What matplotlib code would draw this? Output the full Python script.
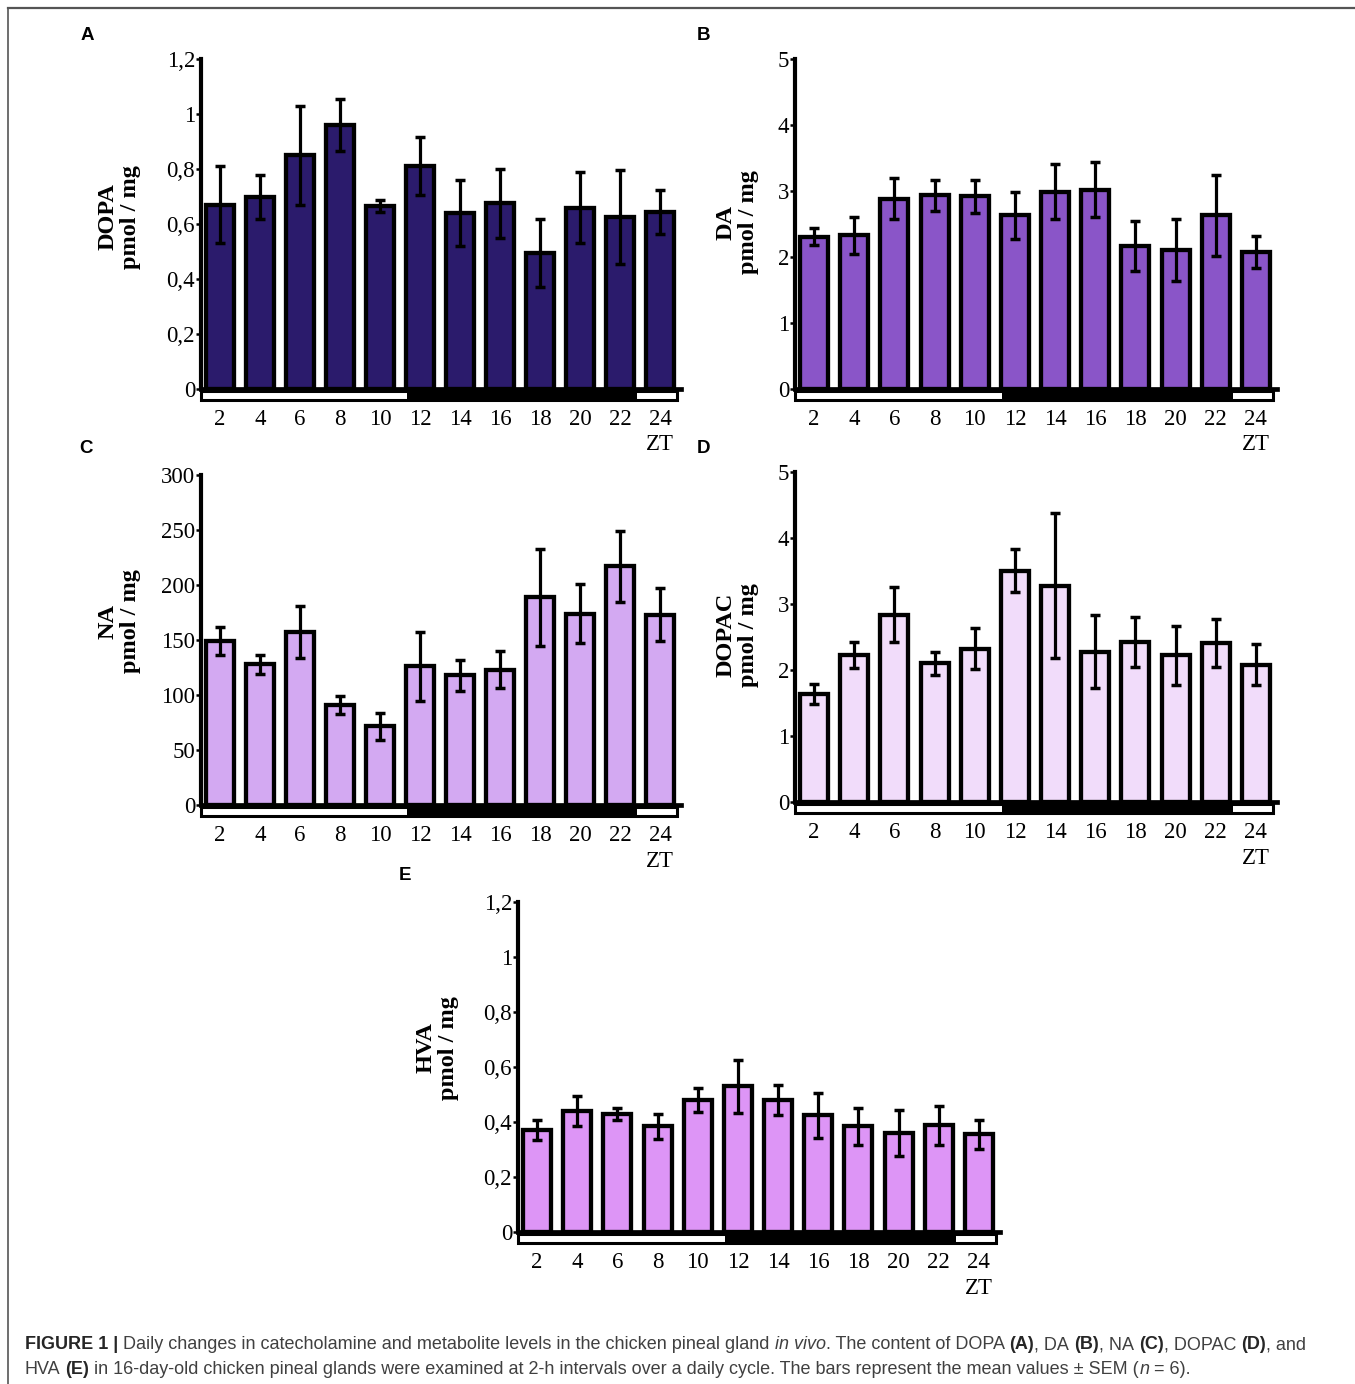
import numpy as np
import matplotlib
matplotlib.use("Agg")
import matplotlib.pyplot as plt
from matplotlib.patches import Rectangle
from matplotlib.lines import Line2D
import matplotlib.transforms as mtransforms
from matplotlib.font_manager import FontProperties

# ---------------- data ----------------
zt = [2, 4, 6, 8, 10, 12, 14, 16, 18, 20, 22, 24]

dopa_mean = [0.67, 0.70, 0.85, 0.96, 0.665, 0.81, 0.64, 0.675, 0.495, 0.66, 0.625, 0.645]
dopa_sem = [0.14, 0.08, 0.18, 0.095, 0.022, 0.105, 0.12, 0.125, 0.123, 0.13, 0.17, 0.08]

da_mean = [2.31, 2.33, 2.88, 2.935, 2.92, 2.63, 2.99, 3.02, 2.165, 2.11, 2.63, 2.08]
da_sem = [0.125, 0.28, 0.31, 0.235, 0.25, 0.355, 0.42, 0.42, 0.38, 0.47, 0.62, 0.24]

na_mean = [149, 128, 157, 91, 71.5, 126, 118, 123, 189, 174, 217, 173]
na_sem = [13, 8.5, 23.5, 8, 12.5, 31.5, 14, 17, 44, 26.5, 32, 24]

dopac_mean = [1.64, 2.23, 2.84, 2.10, 2.32, 3.505, 3.28, 2.28, 2.42, 2.22, 2.41, 2.08]
dopac_sem = [0.15, 0.20, 0.42, 0.18, 0.31, 0.33, 1.10, 0.56, 0.38, 0.45, 0.36, 0.31]

hva_mean = [0.37, 0.44, 0.43, 0.385, 0.48, 0.53, 0.48, 0.424, 0.385, 0.36, 0.388, 0.355]
hva_sem = [0.037, 0.053, 0.022, 0.045, 0.043, 0.097, 0.053, 0.083, 0.067, 0.082, 0.072, 0.054]

dopa_ticks = [0, 0.2, 0.4, 0.6, 0.8, 1.0, 1.2]
da_ticks = [0, 1, 2, 3, 4, 5]
na_ticks = [0, 50, 100, 150, 200, 250, 300]
dopac_ticks = [0, 1, 2, 3, 4, 5]
hva_ticks = [0, 0.2, 0.4, 0.6, 0.8, 1.0, 1.2]

# ---------------- figure ----------------
W, H = 1355, 1384
fig = plt.figure(figsize=(W / 100, H / 100), dpi=100)
fig.patch.set_facecolor("white")


def fx(px):
    return px / W


def fy(py):
    return 1 - py / H


SERIF = "Liberation Serif"
SANS = "Liberation Sans"
AX_H = 330.0

panels = [
    dict(letter="A", name="DOPA", mean=dopa_mean, sem=dopa_sem, ticks=dopa_ticks,
         color="#2b1b6c", left=201, zero=389, width=480, lxy=(87, 35), lab=(119, 217)),
    dict(letter="B", name="DA", mean=da_mean, sem=da_sem, ticks=da_ticks,
         color="#8a55c8", left=795, zero=389, width=482, lxy=(703, 35), lab=(737, 222)),
    dict(letter="C", name="NA", mean=na_mean, sem=na_sem, ticks=na_ticks,
         color="#d3a9f2", left=201, zero=805, width=480, lxy=(86, 449), lab=(119, 621)),
    dict(letter="D", name="DOPAC", mean=dopac_mean, sem=dopac_sem, ticks=dopac_ticks,
         color="#f1dcfa", left=795, zero=802, width=482, lxy=(703, 449), lab=(737, 635)),
    dict(letter="E", name="HVA", mean=hva_mean, sem=hva_sem, ticks=hva_ticks,
         color="#dd95f6", left=518, zero=1232, width=482, lxy=(405, 876), lab=(437, 1048)),
]


def fmt(v):
    return ("%g" % v).replace(".", ",")


for p in panels:
    ax = fig.add_axes([fx(p["left"]), 1 - p["zero"] / H, p["width"] / W, AX_H / H])
    x = np.arange(len(zt))
    ax.bar(x, p["mean"], width=0.7, color=p["color"], edgecolor="black",
           linewidth=3.1, zorder=2)
    ax.errorbar(x, p["mean"], yerr=p["sem"], fmt="none", ecolor="black",
                elinewidth=2.3, capsize=3.6, capthick=2.5, zorder=3)
    ax.set_xlim(-0.475, 11.525)
    ax.set_ylim(p["ticks"][0], p["ticks"][-1])
    for s in ("top", "right"):
        ax.spines[s].set_visible(False)
    ax.spines["left"].set_linewidth(3.0)
    ax.spines["bottom"].set_linewidth(3.4)
    ax.set_xticks(x)
    ax.set_xticklabels([str(z) for z in zt], fontfamily=SERIF, fontsize=16.5)
    ax.tick_params(axis="x", length=0, pad=14.2)
    ax.set_yticks(p["ticks"])
    ax.set_yticklabels([fmt(t) for t in p["ticks"]], fontfamily=SERIF, fontsize=16.5)
    ax.tick_params(axis="y", direction="out", length=3.5, width=1.8, pad=0.8)
    ax.set_facecolor("none")

    trans = mtransforms.blended_transform_factory(ax.transData, ax.transAxes)
    # light / dark bar
    ax.add_patch(Rectangle((-0.475, -11 / AX_H), 11.9, 9 / AX_H, fc="white", ec="black",
                           lw=2.2, transform=trans, clip_on=False, zorder=1))
    ax.add_patch(Rectangle((4.675, -13 / AX_H), 5.75, 13 / AX_H, fc="black", ec="none",
                           lw=0, transform=trans, clip_on=False, zorder=1))
    ax.text(11, -56 / AX_H, "ZT", transform=trans, ha="center", va="center",
            fontfamily=SERIF, fontsize=16.5)

    lx, ly = p["lab"]
    ax.text((lx - p["left"]) / p["width"], (p["zero"] - ly) / AX_H,
            p["name"] + "\npmol / mg", transform=ax.transAxes, rotation=90,
            ha="center", va="center", multialignment="center",
            fontfamily=SERIF, fontweight="bold", fontsize=17.5, linespacing=1.12)

    fig.text(fx(p["lxy"][0]), fy(p["lxy"][1]), p["letter"], ha="center", va="center",
             fontfamily=SANS, fontweight="bold", fontsize=13.5)

# border lines
fig.add_artist(Line2D([fx(8), fx(8)], [fy(8), 0], color="#555555", lw=1.2))
fig.add_artist(Line2D([fx(8), 1], [fy(8), fy(8)], color="#555555", lw=1.6))

# ---------------- caption ----------------
renderer = fig.canvas.get_renderer()
REG_C = "#404040"
BOLD_C = "#262626"


def fp_for(style, size):
    if style == "b":
        return FontProperties(family=SANS, weight="bold", size=size)
    if style == "i":
        return FontProperties(family=SANS, style="italic", size=size)
    return FontProperties(family=SANS, size=size)


def text_w(s, fp):
    t = fig.text(0, 0, s, fontproperties=fp)
    w = t.get_window_extent(renderer).width
    t.remove()
    return w


# (text, style, space_before)
line1 = [("FIGURE 1 |", "b", 0),
         ("Daily changes in catecholamine and metabolite levels in the chicken pineal gland", "r", 1),
         ("in vivo", "i", 1), (". The content of DOPA", "r", 0), ("(A)", "b", 1),
         (", DA", "r", 0), ("(B)", "b", 1), (", NA", "r", 0), ("(C)", "b", 1),
         (", DOPAC", "r", 0), ("(D)", "b", 1), (", and", "r", 0)]
line2 = [("HVA", "r", 0), ("(E)", "b", 1),
         ("in 16-day-old chicken pineal glands were examined at 2-h intervals over a daily cycle. "
          "The bars represent the mean values \u00b1 SEM (", "r", 1),
         ("n", "i", 0), ("= 6).", "r", 1)]


def line_width(pieces, size):
    sp = text_w("a a", fp_for("r", size)) - text_w("aa", fp_for("r", size))
    tot = 0
    for s, st, gap in pieces:
        tot += gap * sp + text_w(s, fp_for(st, size))
    return tot


base = 10.0
size = base * 1280.0 / line_width(line1, base)


def draw_line(pieces, x0, baseline, size):
    sp = text_w("a a", fp_for("r", size)) - text_w("aa", fp_for("r", size))
    xx = x0
    for s, st, gap in pieces:
        xx += gap * sp
        fp = fp_for(st, size)
        fig.text(fx(xx), fy(baseline), s, fontproperties=fp,
                 color=BOLD_C if st == "b" else REG_C, ha="left", va="baseline")
        xx += text_w(s, fp)


draw_line(line1, 25, 1349, size)
draw_line(line2, 25, 1374, size)

fig.savefig("out.png", dpi=100, facecolor="white")
